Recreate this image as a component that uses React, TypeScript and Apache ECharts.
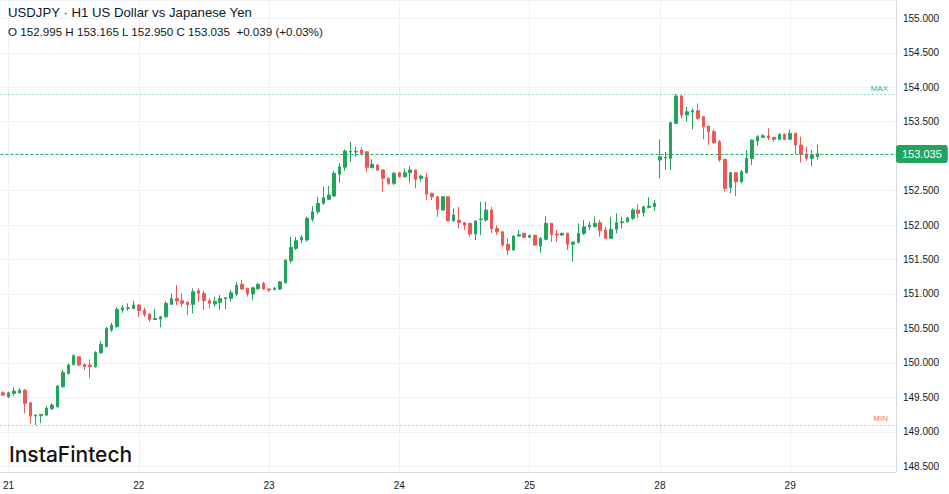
import React, { useEffect, useRef } from 'react';
import * as echarts from 'echarts';

// ---- data ----
const preOpenSlot = '20 23:00';
const sessionDays = ['21', '22', '23', '24', '25', '28', '29'];
const slotsPerDay = [24, 24, 24, 24, 24, 24, 20];

const opens = [
  149.566, 149.508, 149.557, 149.566, 149.605, 149.421, 149.228, 149.233, 149.243, 149.334,
  149.363, 149.654, 149.848, 149.978, 150.089, 149.978, 149.968, 149.944, 150.147, 150.234,
  150.477, 150.525, 150.767, 150.790, 150.791, 150.839, 150.767, 150.709, 150.630, 150.636,
  150.669, 150.849, 150.936, 150.902, 150.883, 150.849, 151.047, 151.009, 150.902, 150.854,
  150.878, 150.930, 150.936, 151.000, 151.140, 151.082, 151.000, 151.076, 151.154, 151.072,
  151.067, 151.072, 151.163, 151.482, 151.662, 151.783, 151.783, 152.083, 152.193, 152.315,
  152.373, 152.421, 152.736, 152.838, 153.060, 153.060, 153.089, 153.064, 152.832, 152.871,
  152.799, 152.678, 152.606, 152.759, 152.701, 152.759, 152.799, 152.678, 152.693, 152.460,
  152.411, 152.218, 152.411, 152.063, 152.073, 152.034, 152.025, 151.870, 152.083, 152.073,
  152.218, 151.952, 151.903, 151.720, 151.637, 151.841, 151.880, 151.822, 151.851, 151.696,
  151.793, 152.025, 151.870, 151.855, 151.880, 151.720, 151.749, 151.880, 151.976, 151.976,
  152.034, 151.928, 151.807, 151.938, 152.034, 152.048, 152.098, 152.218, 152.179, 152.257,
  152.266, 152.944, 152.973, 152.968, 153.476, 153.873, 153.597, 153.645, 153.659, 153.572,
  153.437, 153.355, 153.209, 152.954, 152.548, 152.759, 152.629, 152.759, 152.968, 153.220,
  153.273, 153.292, 153.273, 153.244, 153.317, 153.244, 153.331, 153.162, 153.031, 152.968,
  152.995,
];
const closes = [
  149.533, 149.566, 149.591, 149.605, 149.413, 149.228, 149.243, 149.253, 149.344, 149.388,
  149.664, 149.862, 149.968, 150.103, 149.968, 149.944, 149.944, 150.153, 150.269, 150.501,
  150.549, 150.777, 150.800, 150.800, 150.839, 150.757, 150.704, 150.632, 150.645, 150.669,
  150.864, 150.936, 150.897, 150.864, 150.844, 151.032, 151.009, 150.902, 150.864, 150.893,
  150.936, 150.945, 151.018, 151.125, 151.072, 151.000, 151.090, 151.140, 151.072, 151.057,
  151.086, 151.177, 151.492, 151.677, 151.773, 151.822, 152.098, 152.193, 152.315, 152.397,
  152.436, 152.751, 152.846, 153.074, 153.070, 153.068, 153.041, 152.838, 152.881, 152.799,
  152.678, 152.606, 152.751, 152.701, 152.759, 152.799, 152.664, 152.712, 152.450, 152.411,
  152.228, 152.411, 152.063, 152.145, 152.034, 152.000, 151.870, 152.058, 152.088, 152.218,
  151.952, 151.903, 151.710, 151.637, 151.841, 151.860, 151.822, 151.851, 151.710, 151.807,
  152.025, 151.865, 151.855, 151.880, 151.720, 151.753, 151.880, 151.976, 152.000, 152.025,
  151.918, 151.807, 151.938, 152.034, 152.048, 152.106, 152.218, 152.170, 152.266, 152.276,
  152.315, 152.992, 152.983, 153.485, 153.873, 153.597, 153.645, 153.659, 153.549, 153.427,
  153.355, 153.195, 152.944, 152.533, 152.759, 152.629, 152.774, 152.968, 153.234, 153.282,
  153.296, 153.267, 153.244, 153.317, 153.244, 153.331, 153.162, 153.027, 152.968, 153.016,
  153.035,
];
const highs = [
  149.590, 149.580, 149.645, 149.634, 149.620, 149.430, 149.250, 149.260, 149.373, 149.417,
  149.680, 149.896, 149.990, 150.128, 150.100, 149.990, 150.051, 150.170, 150.317, 150.520,
  150.582, 150.810, 150.839, 150.864, 150.902, 150.850, 150.800, 150.720, 150.781, 150.680,
  150.897, 151.009, 151.129, 151.009, 150.890, 151.080, 151.081, 151.047, 150.936, 150.960,
  150.984, 150.955, 151.057, 151.177, 151.202, 151.090, 151.100, 151.160, 151.177, 151.080,
  151.100, 151.190, 151.510, 151.830, 151.830, 151.855, 152.120, 152.276, 152.411, 152.556,
  152.566, 152.788, 152.900, 153.099, 153.209, 153.137, 153.128, 153.070, 152.954, 152.880,
  152.810, 152.690, 152.774, 152.770, 152.823, 152.857, 152.810, 152.726, 152.751, 152.470,
  152.420, 152.420, 152.420, 152.243, 152.266, 152.040, 152.030, 152.070, 152.338, 152.338,
  152.266, 152.000, 151.910, 151.807, 151.850, 151.928, 151.890, 151.860, 151.860, 151.820,
  152.131, 152.030, 151.928, 151.890, 151.890, 151.760, 152.025, 152.073, 152.048, 152.121,
  152.073, 151.976, 152.121, 152.170, 152.121, 152.120, 152.243, 152.301, 152.280, 152.402,
  152.363, 153.244, 153.064, 153.500, 153.902, 153.887, 153.717, 153.694, 153.767, 153.580,
  153.440, 153.389, 153.234, 152.960, 152.770, 152.770, 152.799, 153.089, 153.240, 153.307,
  153.321, 153.404, 153.280, 153.331, 153.330, 153.379, 153.340, 153.282, 153.137, 153.089,
  153.165,
];
const lows = [
  149.520, 149.490, 149.523, 149.550, 149.268, 149.122, 149.098, 149.126, 149.228, 149.315,
  149.350, 149.640, 149.830, 149.960, 149.950, 149.896, 149.775, 149.930, 150.128, 150.230,
  150.452, 150.510, 150.727, 150.757, 150.777, 150.669, 150.669, 150.597, 150.620, 150.516,
  150.660, 150.839, 150.839, 150.815, 150.694, 150.719, 150.887, 150.767, 150.791, 150.815,
  150.767, 150.777, 150.887, 150.970, 151.060, 150.960, 150.912, 151.060, 151.057, 151.032,
  151.050, 151.060, 151.150, 151.444, 151.638, 151.735, 151.760, 152.048, 152.160, 152.290,
  152.363, 152.410, 152.614, 152.788, 152.919, 152.992, 153.016, 152.774, 152.824, 152.780,
  152.484, 152.581, 152.581, 152.690, 152.690, 152.614, 152.533, 152.629, 152.363, 152.363,
  152.121, 152.210, 152.048, 152.050, 151.952, 151.928, 151.830, 151.783, 151.855, 152.048,
  151.880, 151.855, 151.685, 151.565, 151.637, 151.830, 151.810, 151.810, 151.700, 151.598,
  151.780, 151.758, 151.758, 151.840, 151.637, 151.468, 151.735, 151.855, 151.928, 151.970,
  151.830, 151.800, 151.800, 151.880, 151.952, 152.040, 152.073, 152.098, 152.121, 152.243,
  152.208, 152.678, 152.799, 152.799, 153.460, 153.549, 153.500, 153.389, 153.524, 153.244,
  153.162, 153.176, 152.919, 152.484, 152.460, 152.421, 152.606, 152.750, 152.871, 153.147,
  153.263, 153.234, 153.209, 153.234, 153.230, 153.234, 153.031, 152.905, 152.934, 152.857,
  152.950,
];

const titleLine = 'USDJPY · H1 US Dollar vs Japanese Yen';
const ohlcLine = 'O 152.995 H 153.165 L 152.950 C 153.035  +0.039 (+0.03%)';
const brandText = 'InstaFintech';

const Y_MIN = 148.417;
const Y_MAX = 155.266;

// ---- derived ----
const categories: string[] = [preOpenSlot];
sessionDays.forEach((d, i) => {
  for (let h = 0; h < slotsPerDay[i]; h++) {
    categories.push(`${d} ${String(h).padStart(2, '0')}:00`);
  }
});
const dayStarts = categories.filter((c) => c.endsWith(' 00:00'));
const candleData = opens.map((o, i) => [o, closes[i], lows[i], highs[i]]);
const lastClose = closes[closes.length - 1];

const GREEN = '#22a45d';
const RED = '#ef5656';
const FONT = '"Liberation Sans", Arial, sans-serif';

export default function App() {
  const ref = useRef<HTMLDivElement>(null);
  useEffect(() => {
    if (!ref.current) return;
    const chart = echarts.init(ref.current, null, { renderer: 'svg' });
    chart.setOption({
      animation: false,
      backgroundColor: '#ffffff',
      textStyle: { fontFamily: FONT },
      grid: { left: -1, right: 53, top: 0, bottom: 22, containLabel: false },
      xAxis: {
        type: 'category',
        data: categories,
        boundaryGap: true,
        axisLine: { show: true, lineStyle: { color: '#d6dae2' } },
        axisTick: { show: false },
        axisLabel: {
          interval: (_i: number, v: string) => v.endsWith(' 00:00'),
          formatter: (v: string) => v.split(' ')[0],
          color: '#131722',
          fontSize: 10,
          margin: 8,
          fontFamily: FONT,
        },
        splitLine: { show: false },
      },
      yAxis: {
        type: 'value',
        position: 'right',
        min: Y_MIN,
        max: Y_MAX,
        splitNumber: 13,
        axisLine: { show: true, lineStyle: { color: '#d6dae2' } },
        axisTick: { show: false },
        axisLabel: {
          showMinLabel: false,
          showMaxLabel: false,
          formatter: (v: number) => (Math.abs(v - lastClose) < 0.15 ? '' : v.toFixed(3)),
          color: '#131722',
          fontSize: 10,
          margin: 7,
          fontFamily: FONT,
        },
        splitLine: { show: true, lineStyle: { color: '#f0f2f6', width: 1 } },
      },
      graphic: [
        {
          type: 'text',
          left: 8,
          top: 6,
          z: 100,
          style: { text: titleLine, fill: '#131722', font: `13.2px ${FONT}` },
        },
        {
          type: 'text',
          left: 8,
          top: 25,
          z: 100,
          style: { text: ohlcLine, fill: '#131722', font: `11.6px ${FONT}` },
        },
        {
          type: 'text',
          left: 9,
          top: 444,
          z: 100,
          style: { text: brandText, fill: '#141414', font: `500 21px Inter, "Noto Sans", sans-serif` },
        },
      ],
      series: [
        {
          type: 'line',
          data: [],
          silent: true,
          z: 0,
          markLine: {
            silent: true,
            symbol: 'none',
            z: 0,
            label: { show: false },
            lineStyle: { color: '#eef0f4', type: 'solid', width: 1 },
            data: dayStarts.map((c) => ({ xAxis: c })),
          },
        },
        {
          type: 'candlestick',
          data: candleData,
          barWidth: 3,
          z: 3,
          itemStyle: {
            color: GREEN,
            color0: RED,
            borderColor: GREEN,
            borderColor0: RED,
            borderWidth: 1,
          },
          markLine: {
            silent: true,
            symbol: 'none',
            z: 4,
            data: [
              {
                type: 'max',
                valueDim: 'highest',
                lineStyle: { color: GREEN, type: [1, 3], width: 1, opacity: 0.9 },
                label: {
                  show: true,
                  position: 'insideEndTop',
                  formatter: 'MAX',
                  color: GREEN,
                  fontSize: 8,
                  distance: [8, 2],
                },
              },
              {
                type: 'min',
                valueDim: 'lowest',
                lineStyle: { color: RED, type: [1, 3], width: 1, opacity: 0.9 },
                label: {
                  show: true,
                  position: 'insideEndTop',
                  formatter: 'MIN',
                  color: RED,
                  fontSize: 8,
                  distance: [8, 2],
                },
              },
              {
                yAxis: lastClose,
                lineStyle: { color: GREEN, type: [3, 2], width: 1 },
                label: {
                  show: true,
                  position: 'end',
                  distance: 0,
                  formatter: lastClose.toFixed(3),
                  color: '#ffffff',
                  backgroundColor: GREEN,
                  borderRadius: 3,
                  padding: [4, 6, 3, 6],
                  fontSize: 11,
                  fontFamily: FONT,
                },
              },
            ],
          },
        },
      ],
    });
    return () => chart.dispose();
  }, []);
  return (
    <div
      ref={ref}
      style={{ position: 'fixed', left: 0, top: 0, width: 949, height: 494, background: '#fff' }}
    />
  );
}
